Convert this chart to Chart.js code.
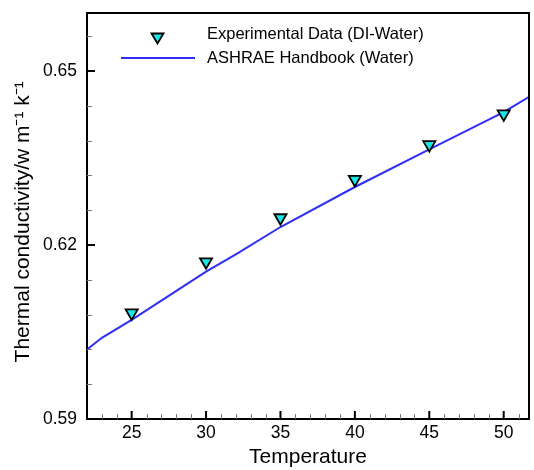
<!DOCTYPE html>
<html lang="en">
<head>
    <meta charset="UTF-8">
    <title>Thermal conductivity</title>
    <script src="https://cdn.jsdelivr.net/npm/chart.js@4.4.0/dist/chart.umd.min.js"></script>
    <style>
        body{ margin:0; background:#fff; }
        #wrap{ width:534px; height:470px; position:relative; }
    </style>
</head>
<body>
    <div id="wrap"><canvas id="myChart"></canvas></div>

    <script>
        // data
        const expTemp = [25, 30, 35, 40, 45, 50]
        const expK = [0.6083, 0.6171, 0.6247, 0.6313, 0.6373, 0.6426]

        const refTemp = [22, 23, 25, 30, 32, 35, 40, 45, 50, 52]
        const refK = [0.6020, 0.6040, 0.6071, 0.6154, 0.6184, 0.6231, 0.6300, 0.6365, 0.6429, 0.6460]

        const xTicks = [25, 30, 35, 40, 45, 50]
        const yTicks = [0.59, 0.62, 0.65]
        const xMinor = [23, 24, 26, 27, 28, 29, 31, 32, 33, 34, 36, 37, 38, 39, 41, 42, 43, 44, 46, 47, 48, 49, 51]
        const yMinor = [0.596, 0.602, 0.608, 0.614, 0.626, 0.632, 0.638, 0.644, 0.656]

        const expLabel = 'Experimental Data (DI-Water)'
        const refLabel = 'ASHRAE Handbook (Water)'

        const font = '"Liberation Sans", Arial, sans-serif'
        const blue = '#2e2ef5'

        // inward ticks, frame and legend
        const frame = {
            id: 'frame',
            afterDraw(chart){
                const ctx = chart.ctx
                const a = chart.chartArea
                const xs = chart.scales.x, ys = chart.scales.y
                ctx.save()
                ctx.strokeStyle = '#000'
                ctx.lineWidth = 2
                ctx.strokeRect(a.left, a.top, a.right - a.left, a.bottom - a.top)

                ctx.beginPath()
                xTicks.forEach(v => { const p = xs.getPixelForValue(v); ctx.moveTo(p, a.bottom); ctx.lineTo(p, a.bottom - 8) })
                yTicks.forEach(v => { const p = ys.getPixelForValue(v); ctx.moveTo(a.left, p); ctx.lineTo(a.left + 8, p) })
                ctx.stroke()

                ctx.lineWidth = 1
                ctx.strokeStyle = '#777'
                ctx.beginPath()
                xMinor.forEach(v => { const p = Math.round(xs.getPixelForValue(v)) + 0.5; ctx.moveTo(p, a.bottom); ctx.lineTo(p, a.bottom - 5) })
                yMinor.forEach(v => { const p = Math.round(ys.getPixelForValue(v)) + 0.5; ctx.moveTo(a.left, p); ctx.lineTo(a.left + 5, p) })
                ctx.stroke()

                // legend
                ctx.fillStyle = '#000'
                ctx.font = '16.5px ' + font
                ctx.textBaseline = 'middle'
                ctx.fillText(expLabel, 207, 34)
                ctx.fillText(refLabel, 207, 58)

                ctx.strokeStyle = blue
                ctx.lineWidth = 2
                ctx.beginPath()
                ctx.moveTo(121, 58); ctx.lineTo(195, 58)
                ctx.stroke()

                ctx.fillStyle = '#19e6e6'
                ctx.strokeStyle = '#000'
                ctx.lineWidth = 1.8
                ctx.beginPath()
                ctx.moveTo(151.5, 33.5); ctx.lineTo(163.5, 33.5); ctx.lineTo(157.5, 43.5); ctx.closePath()
                ctx.fill(); ctx.stroke()
                ctx.restore()
            }
        }

        const ctx = document.getElementById('myChart').getContext('2d')
        const myChart = new Chart(ctx, {
            type: 'scatter',
            data: {
                datasets: [{
                    label: refLabel,
                    data: refTemp.map((t, i) => ({x: t, y: refK[i]})),
                    showLine: true,
                    borderColor: blue,
                    borderWidth: 2,
                    pointRadius: 0,
                    tension: 0,
                    order: 2
                }, {
                    label: expLabel,
                    data: expTemp.map((t, i) => ({x: t, y: expK[i]})),
                    pointStyle: 'triangle',
                    rotation: 180,
                    pointRadius: 7,
                    backgroundColor: '#19e6e6',
                    borderColor: '#000',
                    borderWidth: 1.8,
                    order: 1
                }]
            },
            options: {
                responsive: true,
                maintainAspectRatio: false,
                animation: false,
                layout: { autoPadding: false, padding: { top: 13, right: 5, left: 0, bottom: 0 } },
                plugins: { legend: { display: false }, tooltip: { enabled: false } },
                scales: {
                    x: {
                        type: 'linear',
                        min: 22, max: 51.7,
                        afterBuildTicks: s => { s.ticks = xTicks.map(v => ({value: v})) },
                        afterFit: s => { s.height = 51; s.paddingLeft = 0; s.paddingRight = 0 },
                        grid: { display: false, drawTicks: false },
                        border: { display: false },
                        ticks: { color: '#000', font: { family: font, size: 17.5 }, padding: 4, maxRotation: 0 },
                        title: { display: true, text: 'Temperature', color: '#000', font: { family: font, size: 21 }, padding: { top: 5, bottom: 0 } }
                    },
                    y: {
                        min: 0.59, max: 0.66,
                        afterBuildTicks: s => { s.ticks = yTicks.map(v => ({value: v})) },
                        afterFit: s => { s.width = 87; s.paddingTop = 0; s.paddingBottom = 0 },
                        grid: { display: false, drawTicks: false },
                        border: { display: false },
                        ticks: { color: '#000', font: { family: font, size: 17.5 }, padding: 10, callback: v => v.toFixed(2) },
                        title: { display: true, text: 'Thermal conductivity/w m\u207B\u00B9 k\u207B\u00B9  ', color: '#000', font: { family: font, size: 21 }, padding: { top: 11, bottom: 0 } }
                    }
                }
            },
            plugins: [frame]
        })
    </script>
</body>
</html>
